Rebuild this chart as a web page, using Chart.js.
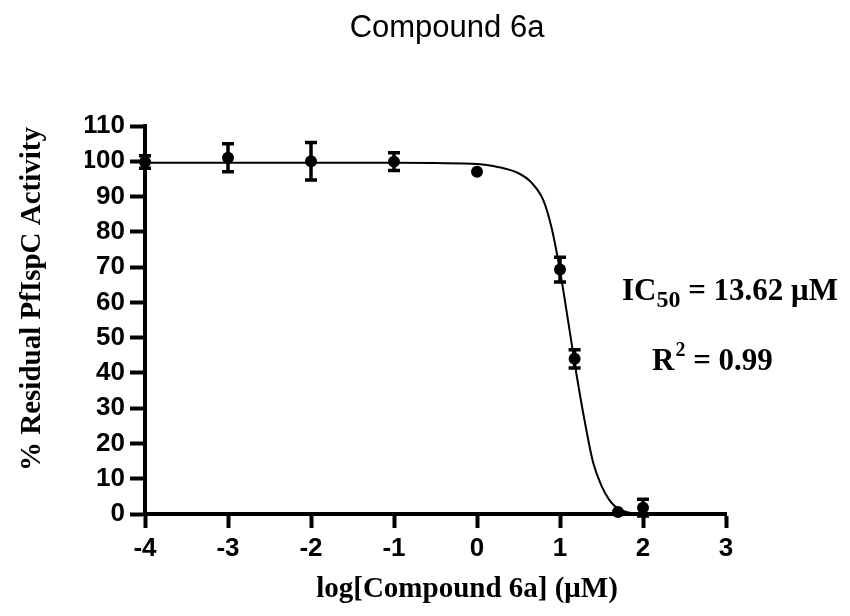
<!DOCTYPE html>
<html>
<head>
<meta charset="utf-8">
<script src="https://cdn.jsdelivr.net/npm/chart.js@4/dist/chart.umd.min.js"></script>
<style>
  html, body { margin: 0; padding: 0; background: #fff; }
  #wrap { width: 850px; height: 616px; }
</style>
</head>
<body>
<div id="wrap"><canvas id="doseChart" width="850" height="616"></canvas></div>
<script>
// --- Dados ---
const doseLog = [-4, -3, -2, -1, 0, 1, 1.176, 1.699, 2];
const activity = [99.8, 101.0, 100.0, 99.9, 97.0, 69.3, 44.0, 0.6, 1.8];
const activityErr = [1.8, 4.0, 5.3, 2.5, 0, 3.5, 2.6, 0, 2.4];

// curva ajustada, pontos
const fitLog = [-4, -3, -2, -1, -0.5, 0, 0.25, 0.5, 0.65, 0.8, 0.9, 1.0, 1.1, 1.2, 1.3, 1.4, 1.5, 1.6, 1.7, 1.8, 1.9, 2.0];
const fitActivity = [99.6, 99.6, 99.6, 99.6, 99.5, 99.2, 98.4, 96.6, 94.1, 88.9, 81.0, 69.0, 54.4, 39.4, 26.0, 14.5, 8.0, 3.8, 1.5, 0.6, 0.2, 0.0];

const xTicks = [-4, -3, -2, -1, 0, 1, 2, 3];
const yTicks = [0, 10, 20, 30, 40, 50, 60, 70, 80, 90, 100, 110];

const SANS = "'Liberation Sans', Arial, sans-serif";
const SERIF = "'Liberation Serif', 'Times New Roman', serif";

// --- Barras de erro ---
const errorBars = {
    id: 'errorBars',
    afterDatasetsDraw(chart) {
        const ctx = chart.ctx;
        const xs = chart.scales.x, ys = chart.scales.y;
        ctx.save();
        ctx.strokeStyle = '#000';
        ctx.lineWidth = 3.5;
        doseLog.forEach((d, i) => {
            const e = activityErr[i];
            if (!e) return;
            const px = xs.getPixelForValue(d);
            const top = ys.getPixelForValue(activity[i] + e);
            const bot = ys.getPixelForValue(activity[i] - e);
            ctx.beginPath();
            ctx.moveTo(px, top); ctx.lineTo(px, bot);
            ctx.moveTo(px - 6, top); ctx.lineTo(px + 6, top);
            ctx.moveTo(px - 6, bot); ctx.lineTo(px + 6, bot);
            ctx.stroke();
        });
        ctx.restore();
    }
};

// --- Textos (titulo, eixos, IC50) ---
const labels = {
    id: 'labels',
    afterDraw(chart) {
        const ctx = chart.ctx;
        ctx.save();
        ctx.fillStyle = '#000';
        ctx.textBaseline = 'alphabetic';

        ctx.font = '31px ' + SANS;
        ctx.textAlign = 'center';
        ctx.fillText('Compound 6a', 447, 37);

        ctx.font = 'bold 29px ' + SERIF;
        ctx.fillText('log[Compound 6a] (\u03bcM)', 467, 597);

        ctx.save();
        ctx.translate(40, 299);
        ctx.rotate(-Math.PI / 2);
        ctx.fillText('% Residual PfIspC Activity', 0, 0);
        ctx.restore();

        // IC50 = 13.62 uM
        ctx.textAlign = 'left';
        let x = 622;
        ctx.font = 'bold 31px ' + SERIF;
        ctx.fillText('IC', x, 300);
        x += ctx.measureText('IC').width;
        ctx.font = 'bold 24px ' + SERIF;
        ctx.fillText('50', x, 307);
        x += ctx.measureText('50').width;
        ctx.font = 'bold 31px ' + SERIF;
        ctx.fillText(' = 13.62 \u03bcM', x, 300);

        // R2 = 0.99
        x = 652;
        ctx.fillText('R', x, 370);
        x += ctx.measureText('R').width;
        ctx.font = 'bold 20px ' + SERIF;
        ctx.fillText('2', x + 1, 356);
        x += ctx.measureText('2').width + 1;
        ctx.font = 'bold 31px ' + SERIF;
        ctx.fillText(' = 0.99', x, 370);

        ctx.restore();
    }
};

function initChart() {
    const ctx = document.getElementById('doseChart').getContext('2d');
    new Chart(ctx, {
        type: 'scatter',
        data: {
            datasets: [
                {
                    label: 'fit',
                    data: fitLog.map((v, i) => ({ x: v, y: fitActivity[i] })),
                    showLine: true,
                    borderColor: '#000',
                    borderWidth: 2,
                    pointRadius: 0,
                    cubicInterpolationMode: 'monotone',
                    fill: false,
                    clip: false
                },
                {
                    label: 'data',
                    data: doseLog.map((v, i) => ({ x: v, y: activity[i] })),
                    backgroundColor: '#000',
                    borderWidth: 0,
                    pointRadius: 6,
                    clip: false
                }
            ]
        },
        options: {
            responsive: false,
            animation: false,
            layout: { padding: { left: 85, right: 124, top: 126, bottom: 42 } },
            scales: {
                x: {
                    type: 'linear',
                    min: -4,
                    max: 3,
                    afterBuildTicks: (s) => { s.ticks = xTicks.map(v => ({ value: v })); },
                    afterFit: (s) => { s.height = 60; },
                    ticks: { color: '#000', font: { family: SANS, size: 26, weight: 'bold' }, padding: 5, maxRotation: 0 },
                    grid: { display: true, drawOnChartArea: false, drawTicks: true, tickLength: 14, tickWidth: 4, tickColor: '#000' },
                    border: { display: true, width: 4, color: '#000' }
                },
                y: {
                    min: 0,
                    max: 110,
                    afterBuildTicks: (s) => { s.ticks = yTicks.map(v => ({ value: v })); },
                    afterFit: (s) => { s.width = 60; },
                    ticks: { color: '#000', font: { family: SANS, size: 26, weight: 'bold' }, padding: 5 },
                    grid: { display: true, drawOnChartArea: false, drawTicks: true, tickLength: 15, tickWidth: 4, tickColor: '#000' },
                    border: { display: true, width: 4, color: '#000' }
                }
            },
            plugins: {
                legend: { display: false },
                tooltip: { enabled: false }
            }
        },
        plugins: [errorBars, labels]
    });
}

document.addEventListener('DOMContentLoaded', initChart);
</script>
</body>
</html>
